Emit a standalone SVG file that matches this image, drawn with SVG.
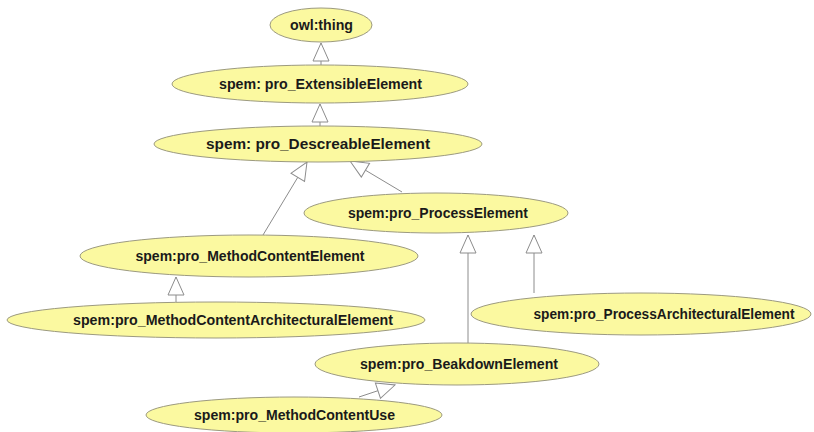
<svg xmlns="http://www.w3.org/2000/svg" width="814" height="432" viewBox="0 0 814 432">
<style>
.n ellipse{fill:#fbf9a0;stroke:#9c9a80;stroke-width:1}
.n text{font-family:"Liberation Sans",Arial,sans-serif;font-weight:bold;font-size:14px;fill:#1a1a1a;text-anchor:middle}
.e line{stroke:#8c8c8c;stroke-width:1;marker-end:url(#tri)}
</style>
<defs>
<marker id="tri" viewBox="0 0 20 18" markerWidth="20" markerHeight="18" refX="19" refY="9" orient="auto" markerUnits="userSpaceOnUse">
<path d="M1,1 L19,9 L1,17 Z" fill="#fff" stroke="#8c8c8c" stroke-width="1"/>
</marker>
</defs>
<rect width="814" height="432" fill="#fff"/>
<g id="connectors" class="e">
<line x1="321" y1="65" x2="321" y2="43"/>
<line x1="320" y1="126" x2="320" y2="104"/>
<line x1="263" y1="235" x2="307" y2="162"/>
<line x1="402" y1="192" x2="350" y2="161"/>
<line x1="176" y1="302" x2="176" y2="277"/>
<line x1="468" y1="343" x2="468" y2="235"/>
<line x1="534" y1="293" x2="534" y2="235"/>
<line x1="359" y1="397" x2="395" y2="385"/>
</g>
<g id="owl_thing" class="n"><ellipse cx="321" cy="25" rx="51" ry="17"/><text x="321.5" y="30" textLength="63" lengthAdjust="spacingAndGlyphs">owl:thing</text></g>
<g id="ExtensibleElement" class="n"><ellipse cx="320" cy="84" rx="148" ry="19"/><text x="320.5" y="89" textLength="203" lengthAdjust="spacingAndGlyphs">spem: pro_ExtensibleElement</text></g>
<g id="DescreableElement" class="n"><ellipse cx="318" cy="144" rx="164" ry="18"/><text x="318" y="149" textLength="224" lengthAdjust="spacingAndGlyphs">spem: pro_DescreableElement</text></g>
<g id="ProcessElement" class="n"><ellipse cx="436" cy="213" rx="132" ry="20"/><text x="438" y="218" textLength="180" lengthAdjust="spacingAndGlyphs">spem:pro_ProcessElement</text></g>
<g id="MethodContentElement" class="n"><ellipse cx="249" cy="256" rx="169" ry="21"/><text x="250" y="261" textLength="229" lengthAdjust="spacingAndGlyphs">spem:pro_MethodContentElement</text></g>
<g id="MethodContentArchitecturalElement" class="n"><ellipse cx="216" cy="320" rx="209" ry="18"/><text x="233" y="325" textLength="320" lengthAdjust="spacingAndGlyphs">spem:pro_MethodContentArchitecturalElement</text></g>
<g id="ProcessArchitecturalElement" class="n"><ellipse cx="641" cy="314" rx="170" ry="21"/><text x="664" y="319" textLength="261" lengthAdjust="spacingAndGlyphs">spem:pro_ProcessArchitecturalElement</text></g>
<g id="BeakdownElement" class="n"><ellipse cx="457" cy="364" rx="142" ry="21"/><text x="459" y="369" textLength="198" lengthAdjust="spacingAndGlyphs">spem:pro_BeakdownElement</text></g>
<g id="MethodContentUse" class="n"><ellipse cx="294" cy="415" rx="148" ry="18"/><text x="294.5" y="420" textLength="201" lengthAdjust="spacingAndGlyphs">spem:pro_MethodContentUse</text></g>
</svg>
